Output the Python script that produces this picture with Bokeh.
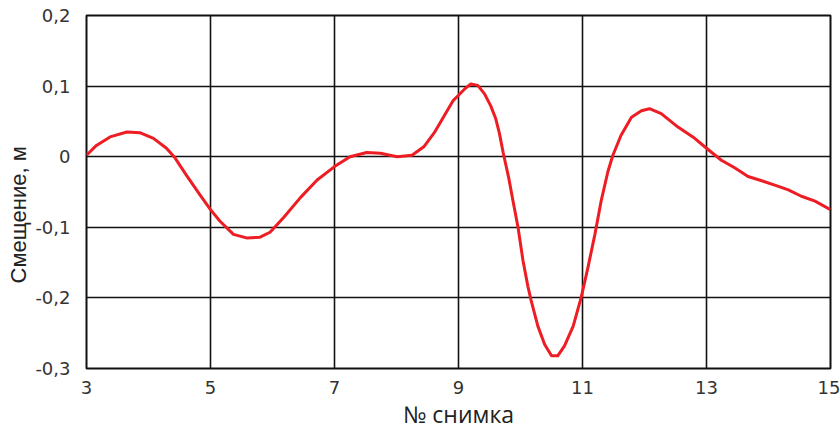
from bokeh.plotting import figure
from bokeh.models import FixedTicker, CustomJSTickFormatter, Title, Range1d, ColumnDataSource
from bokeh.embed import file_html
from bokeh.resources import INLINE

# Data
frame_no = [3.00, 3.16, 3.38, 3.65, 3.86, 4.08, 4.29, 4.43, 4.61, 4.83, 5.00, 5.15, 5.37, 5.58,
            5.80, 5.96, 6.18, 6.45, 6.72, 7.00, 7.25, 7.52, 7.74, 8.01, 8.25, 8.44, 8.61, 8.77,
            8.91, 9.00, 9.10, 9.20, 9.31, 9.42, 9.52, 9.60, 9.66, 9.72, 9.81, 9.88, 9.96, 10.04,
            10.12, 10.17, 10.28, 10.39, 10.50, 10.60, 10.71, 10.85, 10.98, 11.09, 11.20, 11.30,
            11.41, 11.49, 11.62, 11.79, 11.95, 12.08, 12.27, 12.54, 12.81, 13.00, 13.24, 13.46,
            13.67, 13.89, 14.16, 14.32, 14.53, 14.75, 15.00]
displacement = [0.002, 0.016, 0.028, 0.035, 0.034, 0.026, 0.012, -0.002, -0.026, -0.054, -0.075,
                -0.091, -0.110, -0.115, -0.114, -0.107, -0.086, -0.058, -0.033, -0.014, 0.000,
                0.006, 0.005, 0.000, 0.002, 0.014, 0.034, 0.058, 0.079, 0.087, 0.096, 0.103,
                0.101, 0.089, 0.072, 0.054, 0.033, 0.006, -0.030, -0.063, -0.100, -0.147,
                -0.184, -0.203, -0.240, -0.266, -0.282, -0.282, -0.268, -0.240, -0.199, -0.156,
                -0.110, -0.063, -0.021, 0.002, 0.030, 0.056, 0.065, 0.068, 0.061, 0.042, 0.026,
                0.012, -0.005, -0.016, -0.028, -0.034, -0.042, -0.047, -0.056, -0.063, -0.075]
x_ticks = [3, 5, 7, 9, 11, 13, 15]
y_ticks = [-0.3, -0.2, -0.1, 0.0, 0.1, 0.2]
x_title = "№ снимка"
y_title = "Смещение, м"

p = figure(width=840, height=432, output_backend="svg", toolbar_location=None,
           x_range=Range1d(3, 15), y_range=Range1d(-0.3, 0.2),
           min_border_left=86, min_border_right=10, min_border_top=15, min_border_bottom=60)

src = ColumnDataSource(dict(x=frame_no, y=displacement))
p.line("x", "y", source=src, line_color="#ee1d23", line_width=3, line_join="round")

p.xaxis.ticker = FixedTicker(ticks=x_ticks)
p.yaxis.ticker = FixedTicker(ticks=y_ticks)
p.yaxis.formatter = CustomJSTickFormatter(code="""
    if (Math.abs(tick) < 1e-9) return '0';
    return tick.toFixed(1).replace('.', ',');
""")

for ax in (p.xaxis[0], p.yaxis[0]):
    ax.axis_line_color = None
    ax.major_tick_line_color = None
    ax.minor_tick_line_color = None
    ax.major_label_text_font = "DejaVu Sans"
    ax.major_label_text_font_size = "18px"
    ax.major_label_text_color = "#333333"
    ax.major_label_standoff = 10

p.xaxis.major_label_standoff = 6
p.xaxis.axis_label = x_title
p.xaxis.axis_label_text_font = "Open Sans"
p.xaxis.axis_label_text_font_style = "normal"
p.xaxis.axis_label_text_font_size = "23px"
p.xaxis.axis_label_text_color = "#222222"
p.xaxis.axis_label_standoff = 1

p.xgrid.ticker = FixedTicker(ticks=x_ticks)
p.ygrid.ticker = FixedTicker(ticks=y_ticks)
p.grid.grid_line_color = "#111111"
p.grid.grid_line_width = 1.6

p.outline_line_color = "#111111"
p.outline_line_width = 2

ytitle = Title(text=y_title, align="left", offset=85, standoff=4,
               text_font="Liberation Sans", text_font_size="22px",
               text_font_style="normal", text_color="#222222")
p.add_layout(ytitle, "left")

open("out.html", "w").write(file_html(p, INLINE))
